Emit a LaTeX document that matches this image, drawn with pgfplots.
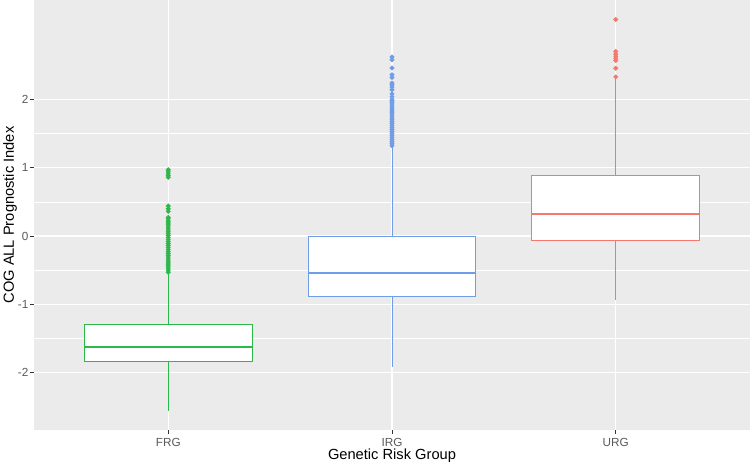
\documentclass[border=0pt]{standalone}
\usepackage{pgfplots}
\pgfplotsset{compat=1.18}
\usepgfplotslibrary{statistics}
\usepackage{fontspec}
\setmainfont{Liberation Sans}
\definecolor{panel}{HTML}{EBEBEB}
\definecolor{frg}{HTML}{2DB84A}
\definecolor{irg}{HTML}{6F9DE8}
\definecolor{urg}{HTML}{F5776E}
\begin{document}
\begin{tikzpicture}
\begin{axis}[
  at={(0,0)}, anchor=south west,
  scale only axis, width=537pt, height=322.5pt,
  xmin=0.4, xmax=3.6, ymin=-2.84, ymax=3.455,
  axis background/.style={fill=panel},
  axis line style={draw=none},
  xtick={1,2,3}, xticklabels={FRG,IRG,URG},
  ytick={-2,-1,0,1,2},
  minor ytick={-1.5,-0.5,0.5,1.5},
  grid=both,
  major grid style={white, line width=0.9pt},
  minor grid style={white, line width=0.45pt},
  tick align=outside,
  major tick length=2.75pt,
  minor tick length=0pt,
  tick style={color=black!80, line width=0.5pt},
  ticklabel style={font=\fontsize{8.8}{10}\selectfont, text=black!65},
  yticklabel style={xshift=2pt},
  /pgf/number format/assume math mode=true,
  xlabel={Genetic Risk Group},
  ylabel={COG ALL Prognostic Index},
  label style={font=\fontsize{11}{13}\selectfont},
  xlabel style={at={(axis description cs:0.5,0)}, anchor=center, yshift=-19pt},
  ylabel style={at={(axis description cs:0,0.5)}, anchor=center, yshift=18pt},
  boxplot/draw direction=y,
  boxplot/whisker extend=0,
  boxplot/every median/.style={line width=1.3pt},
]
% FRG
\addplot+[frg, solid, line width=0.75pt, fill=white,
  mark=*, mark size=1.4pt, mark options={fill=frg, draw=none},
  boxplot prepared={draw position=1, box extend=0.75,
    lower whisker=-2.56, lower quartile=-1.83, median=-1.62,
    upper quartile=-1.30, upper whisker=-0.53}]
  coordinates {
  (1,-0.53)(1,-0.50)(1,-0.47)(1,-0.44)(1,-0.41)(1,-0.38)(1,-0.35)(1,-0.32)
  (1,-0.29)(1,-0.26)(1,-0.23)(1,-0.20)(1,-0.17)(1,-0.14)(1,-0.11)(1,-0.08)
  (1,-0.05)(1,-0.02)(1,0.01)(1,0.04)(1,0.07)(1,0.10)(1,0.13)(1,0.16)
  (1,0.19)(1,0.22)(1,0.25)(1,0.27)
  (1,0.36)(1,0.40)(1,0.44)
  (1,0.86)(1,0.89)(1,0.92)(1,0.95)(1,0.97)
  };
% IRG
\addplot+[irg, solid, line width=0.75pt, fill=white,
  mark=*, mark size=1.4pt, mark options={fill=irg, draw=none},
  boxplot prepared={draw position=2, box extend=0.75,
    lower whisker=-1.92, lower quartile=-0.89, median=-0.54,
    upper quartile=-0.01, upper whisker=1.32}]
  coordinates {
  (2,1.32)(2,1.35)(2,1.38)(2,1.41)(2,1.44)(2,1.47)(2,1.50)(2,1.53)
  (2,1.56)(2,1.59)(2,1.62)(2,1.65)(2,1.68)(2,1.71)(2,1.74)(2,1.77)
  (2,1.80)(2,1.83)(2,1.86)(2,1.89)(2,1.92)(2,1.95)(2,1.98)(2,2.00)
  (2,2.04)(2,2.08)(2,2.14)(2,2.18)(2,2.21)(2,2.24)(2,2.32)(2,2.36)
  (2,2.46)(2,2.58)(2,2.62)
  };
% URG
\addplot+[urg, solid, line width=0.75pt, fill=white,
  mark=*, mark size=1.4pt, mark options={fill=urg, draw=none},
  boxplot prepared={draw position=3, box extend=0.75,
    lower whisker=-0.94, lower quartile=-0.06, median=0.32,
    upper quartile=0.89, upper whisker=2.33}]
  coordinates {
  (3,2.33)(3,2.455)(3,2.57)(3,2.60)(3,2.63)(3,2.66)(3,2.70)(3,3.17)
  };
\end{axis}
\pgfresetboundingbox
\path (-25.5pt,-28.5pt) rectangle (537pt,322.5pt);
\end{tikzpicture}
\end{document}
